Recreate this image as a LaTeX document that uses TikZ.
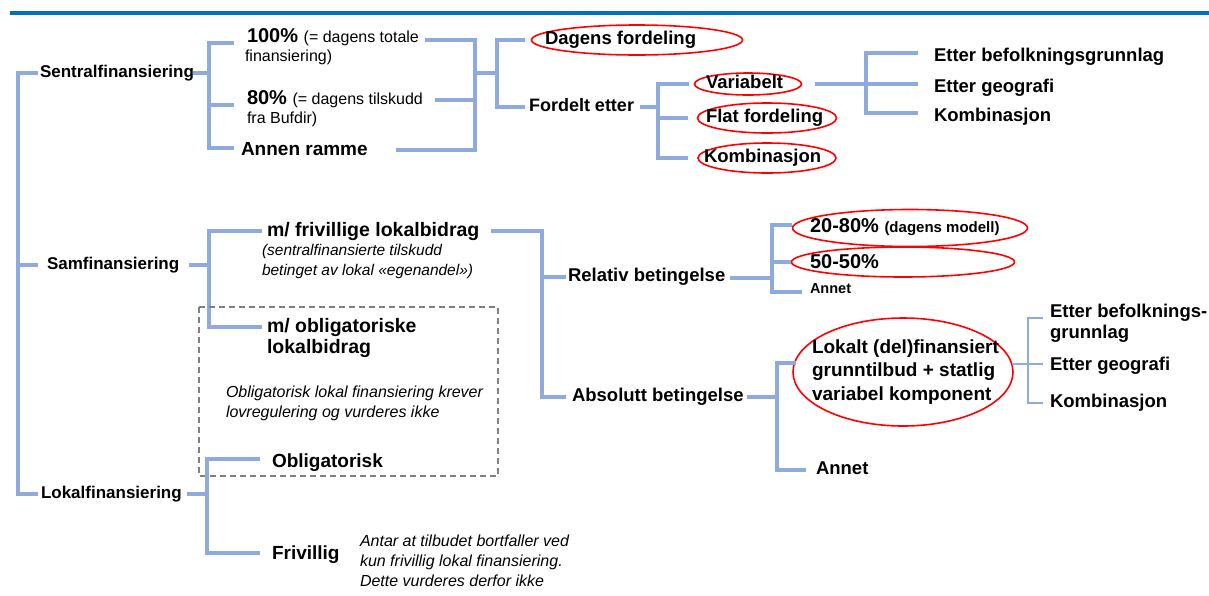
\documentclass[tikz,border=0pt]{standalone}
\usepackage{fontspec}
\setmainfont{Liberation Sans}
\usetikzlibrary{shapes.geometric,calc}
\definecolor{conncol}{HTML}{8FAADC}
\definecolor{hdrcol}{HTML}{0070C0}
\definecolor{ellred}{HTML}{FF0000}
\definecolor{dashcol}{HTML}{808080}
\tikzset{
  t/.style={anchor=west, inner sep=0pt, outer sep=0pt},
  bl/.style={t, font=\bfseries\fontsize{#1}{#1}\selectfont, text height=0.72*#1pt, text depth=0.2*#1pt},
  rg/.style={t, font=\fontsize{#1}{#1}\selectfont, text height=0.72*#1pt, text depth=0.2*#1pt},
  note/.style={t, align=left, font=\itshape\fontsize{#1}{20}\selectfont},
  conn/.style={draw=conncol, line width=3.5pt},
  thinconn/.style={draw=conncol, line width=2pt},
  ell/.style={ellipse, draw=ellred, line width=1.6pt, inner sep=0pt, outer sep=0pt},
  dashbox/.style={draw=dashcol, line width=1.2pt, dash pattern=on 6pt off 4pt},
  hdrline/.style={draw=hdrcol, line width=4pt}
}
\begin{document}
\begin{tikzpicture}[x=1pt,y=-1pt]
\useasboundingbox (0,0) rectangle (1209,595);
\coordinate (h1) at (10,13);
\coordinate (h2) at (1209,13);
\draw[hdrline] (h1) -- (h2);

% ---------- level 1
\node[bl=17] (sentral) at (40,73) {Sentralfinansiering};
\node[bl=17] (sam) at (47,265) {Samfinansiering};
\node[bl=17] (lokal) at (41,494) {Lokalfinansiering};
\coordinate (root) at (18,265);
\draw[conn] ([xshift=-2pt]sentral.west) -| (root) |- ([xshift=-3pt]lokal.west);
\draw[conn] (root) -- ([xshift=-9pt]sam.west);

% ---------- Sentralfinansiering
\node[bl=20] (p100) at (247,37) {100\% {\mdseries\fontsize{16}{16}\selectfont (= dagens totale}};
\node[rg=16] (p100b) at (245,57) {finansiering)};
\node[bl=20] (p80) at (247,99) {80\% {\mdseries\fontsize{16}{16}\selectfont (= dagens tilskudd}};
\node[rg=16] (p80b) at (247,119) {fra Bufdir)};
\node[bl=19] (annen) at (241,151) {Annen ramme};
\coordinate (s1) at (209,73);
\draw[conn] ([xshift=-1pt]sentral.east) -- (s1);
\draw[conn] ([xshift=-13pt,yshift=-6pt]p100.west) -| (s1) |- ([xshift=-7pt,yshift=3pt]annen.west);
\coordinate (p80t) at ([xshift=-13pt,yshift=-6pt]p80.west);
\draw[conn] (p80t) -- (s1 |- p80t);

\coordinate (s2) at (475,73);
\draw[conn] ([xshift=6pt,yshift=-3pt]p100.east) -| (s2) |- ([xshift=28pt,yshift=1pt]annen.east);
\coordinate (p80r) at ([xshift=12pt,yshift=-1pt]p80.east);
\draw[conn] (p80r) -- (s2 |- p80r);
\coordinate (s3) at (497,73);
\draw[conn] (s2) -- (s3);

\node[ell, minimum width=211pt, minimum height=30pt] (dagE) at (637,40) {};
\node[bl=18.5] (dagens) at (545,40) {Dagens fordeling};
\node[bl=18] (fordelt) at (529,107) {Fordelt etter};
\draw[conn] ([xshift=-7pt]dagE.west) -| (s3) |- ([xshift=-4pt]fordelt.west);

\coordinate (s4) at (658,107);
\draw[conn] ([xshift=6pt]fordelt.east) -- (s4);
\node[ell, minimum width=107pt, minimum height=22pt] (varE) at (748,84) {};
\node[ell, minimum width=139pt, minimum height=30pt] (flatE) at (767,118) {};
\node[ell, minimum width=138pt, minimum height=30pt] (kombE) at (767,158) {};
\node[bl=18.5] (var) at (706,84) {Variabelt};
\node[bl=18.5] (flat) at (706,118) {Flat fordeling};
\node[bl=18.5] (komb) at (704,158) {Kombinasjon};
\draw[conn] ([xshift=-6pt]varE.west) -| (s4) |- ([xshift=-10pt]kombE.west);
\draw[conn] ([xshift=-10pt]flatE.west) -- (s4 |- flatE.west);

\coordinate (s5) at (866,84);
\draw[conn] ([xshift=13pt]varE.east) -- (s5);
\node[bl=18.5] (eb1) at (934,57) {Etter befolkningsgrunnlag};
\node[bl=18.5] (eg1) at (934,88) {Etter geografi};
\node[bl=18.5] (k1) at (934,117) {Kombinasjon};
\draw[conn] ([xshift=-16pt,yshift=4pt]eb1.west) -| (s5) |- ([xshift=-16pt,yshift=4pt]k1.west);
\draw[conn] (s5) -- ([xshift=-16pt,yshift=4pt]eg1.west);

% ---------- Samfinansiering
\node[bl=19.5] (frivl) at (267,231) {m/ frivillige lokalbidrag};
\node[note=15.5] (note1) at (262,261) {(sentralfinansierte tilskudd\\betinget av lokal «egenandel»)};
\node[bl=19.5] (oblig) at (267,327) {m/ obligatoriske};
\node[bl=19.5] (obligb) at (267,348) {lokalbidrag};
\coordinate (s6) at (209,265);
\draw[conn] ([xshift=10pt]sam.east) -- (s6);
\draw[conn] ([xshift=-5pt]frivl.west) -| (s6) |- ([xshift=-5pt]oblig.west);

\draw[dashbox] (199,307) rectangle (498,476);
\node[note=16] (note2) at (226,403) {Obligatorisk lokal finansiering krever\\lovregulering og vurderes ikke};

\node[bl=18.5] (rel) at (568,277) {Relativ betingelse};
\node[bl=18.5] (abs) at (572,397) {Absolutt betingelse};
\coordinate (s7) at (542,277);
\draw[conn] ([xshift=12pt]frivl.east) -| (s7) |- ([xshift=-6pt]abs.west);
\draw[conn] (s7) -- ([xshift=-2pt]rel.west);

\node[ell, minimum width=235pt, minimum height=37pt] (e2080) at (910,228) {};
\node[ell, minimum width=223pt, minimum height=30pt] (e5050) at (903,262) {};
\node[bl=20] (t2080) at (810,227) {20-80\% {\fontsize{15}{15}\selectfont (dagens modell)}};
\node[bl=20] (t5050) at (810,263) {50-50\%};
\node[bl=14.5] (annet1) at (810,290) {Annet};
\coordinate (s8) at (772,278);
\coordinate (relR) at ([xshift=5pt]rel.east);
\draw[conn] (relR |- s8) -- (s8);
\draw[conn] ([xshift=-1pt,yshift=3pt]e2080.west) -| (s8) |- ([xshift=-8pt,yshift=-2pt]annet1.west);
\draw[conn] ([xshift=-1pt]e5050.west) -- (s8 |- e5050.west);

\node[ell, minimum width=220pt, minimum height=108pt] (bigE) at (903,372) {};
\node[t, align=left, font=\bfseries\fontsize{19}{23.5}\selectfont] (bigT) at (812,372) {Lokalt (del)finansiert\\grunntilbud + statlig\\variabel komponent};
\node[bl=18.5] (annet2) at (816,470) {Annet};
\coordinate (s9) at (777,397);
\draw[conn] ([xshift=3pt]abs.east) -- (s9 |- abs.east);
\draw[conn] ([xshift=3pt,yshift=9pt]bigE.west) -| (s9) |- ([xshift=-10pt]annet2.west);

\node[bl=18.5] (ebf2) at (1050,313) {Etter befolknings-};
\node[bl=18.5] (ebf2b) at (1050,334) {grunnlag};
\node[bl=18.5] (eg2) at (1050,366) {Etter geografi};
\node[bl=18.5] (k2) at (1050,403) {Kombinasjon};
\coordinate (s10) at (1028,364);
\coordinate (bigR) at (bigE.4);
\draw[thinconn] (bigR) -- (bigR -| s10);
\draw[thinconn] ([xshift=-7pt,yshift=-5pt]ebf2.west) -| (s10) |- ([xshift=-7pt]k2.west);
\coordinate (eg2t) at ([xshift=-7pt]eg2.west);
\draw[thinconn] (s10) -- (s10 -| eg2t);

% ---------- Lokalfinansiering
\node[bl=19] (obl) at (272,463) {Obligatorisk};
\node[bl=19] (friv) at (272,555) {Frivillig};
\node[note=16] (note3) at (360,561) {Antar at tilbudet bortfaller ved\\kun frivillig lokal finansiering.\\Dette vurderes derfor ikke};
\coordinate (s11) at (207,494);
\draw[conn] ([xshift=5pt]lokal.east) -- (s11);
\draw[conn] ([xshift=-12pt,yshift=4pt]obl.west) -| (s11) |- ([xshift=-12pt,yshift=2pt]friv.west);
\end{tikzpicture}
\end{document}
